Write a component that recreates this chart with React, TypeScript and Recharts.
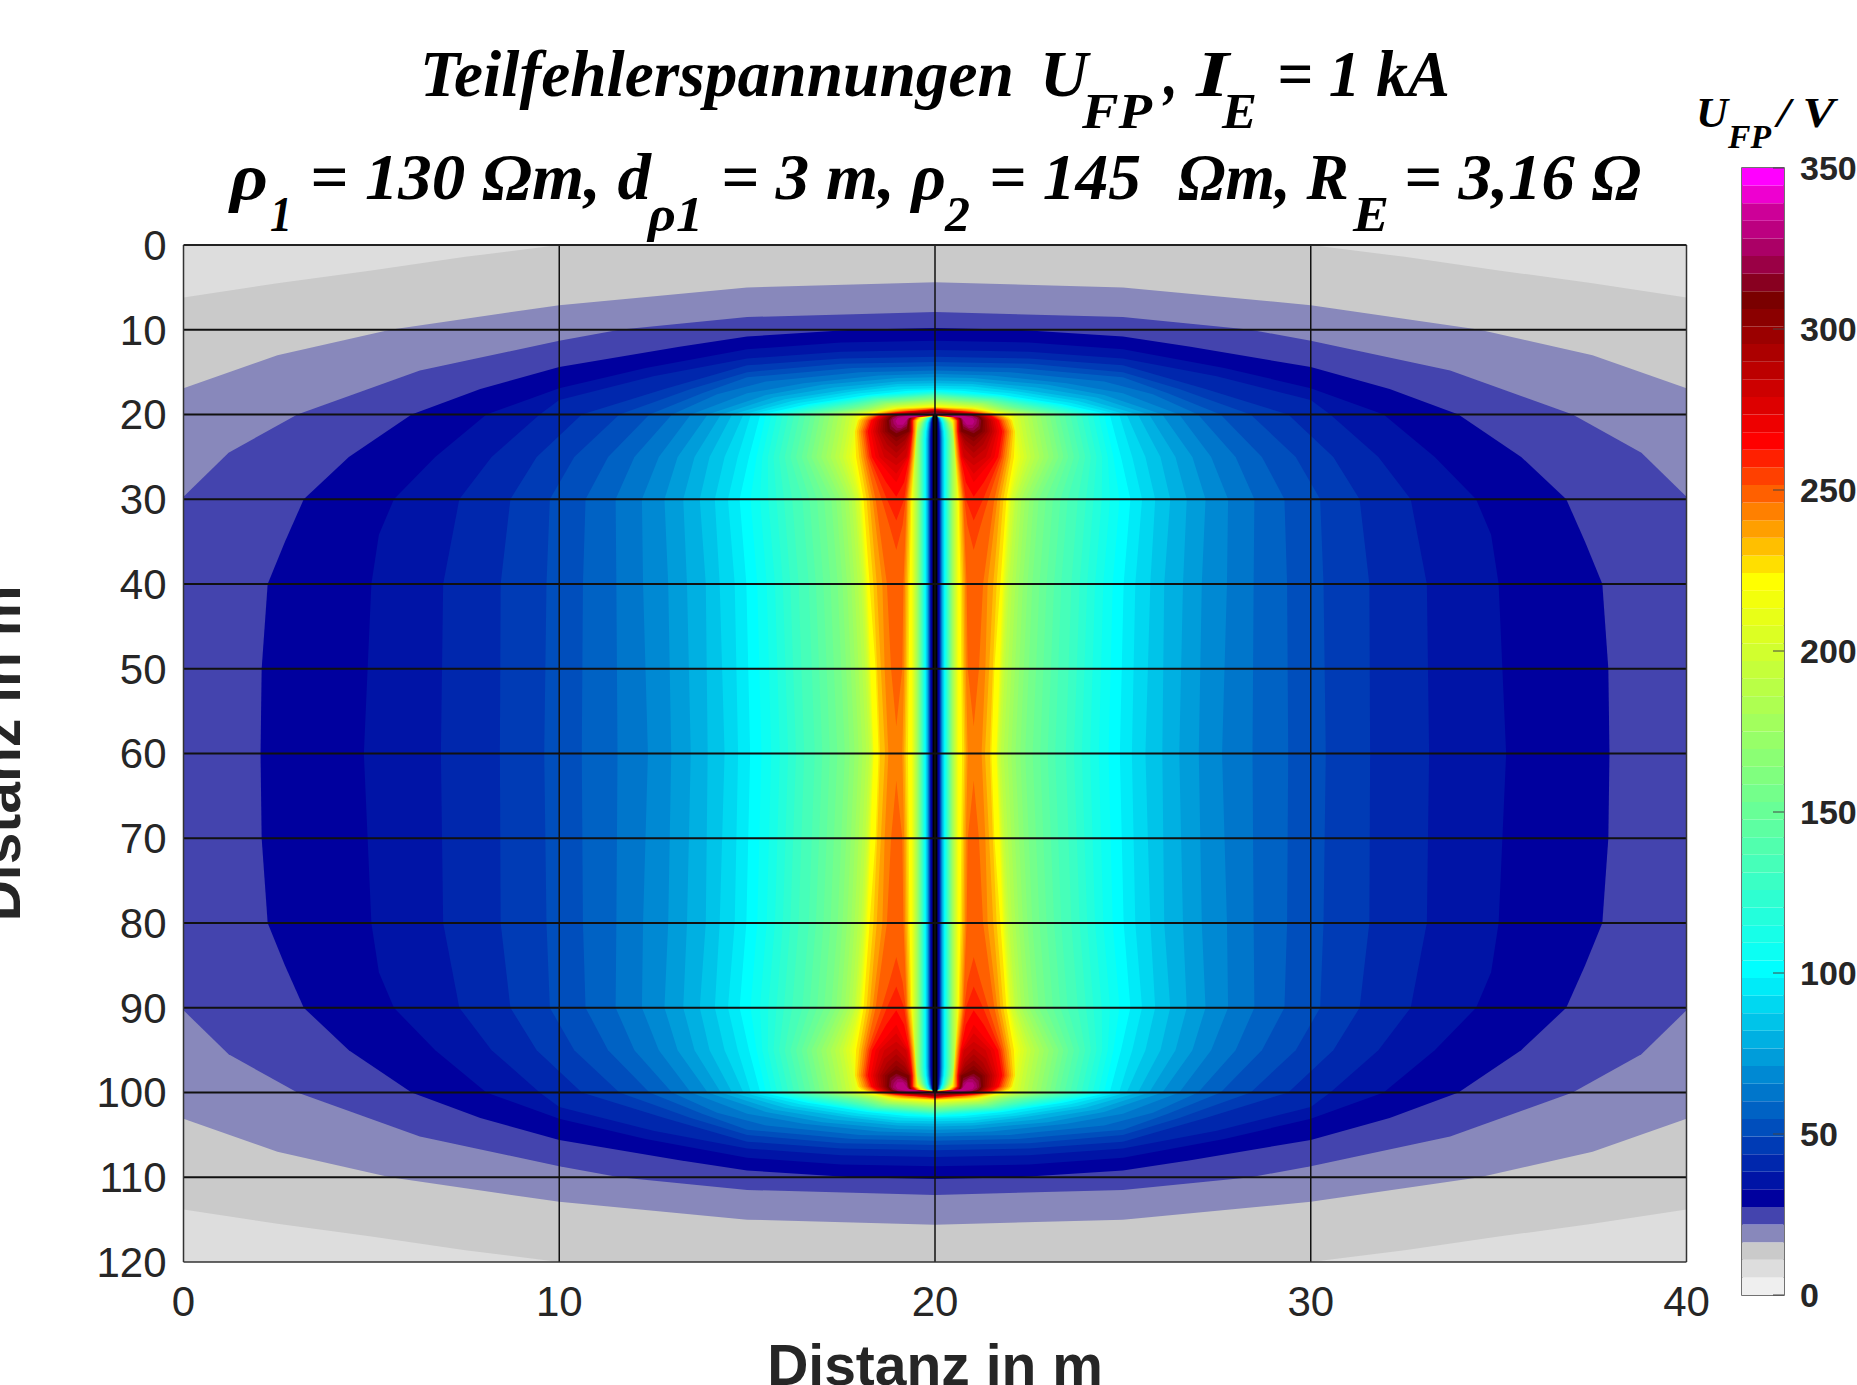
import React from 'react';
import { ComposedChart, BarChart, Bar, Area, XAxis, YAxis, ReferenceLine, ReferenceArea } from 'recharts';

const SANS = '"Liberation Sans", Arial, sans-serif';
const SERIF = '"Liberation Serif", "Times New Roman", serif';

const xTicks = [0, 10, 20, 30, 40];
const yTicks = [0, 10, 20, 30, 40, 50, 60, 70, 80, 90, 100, 110, 120];
const barTicks = [0, 50, 100, 150, 200, 250, 300, 350];
const xGrid = [10, 20, 30];
const yGrid = [10, 20, 30, 40, 50, 60, 70, 80, 90, 100, 110];

const palette = [
  '#efefef', '#dddddd', '#cacaca', '#8888bb', '#4444ae', '#00009e', '#0014a6', '#0027ad',
  '#003bb5', '#004ebc', '#0062c4', '#0076cb', '#0089d3', '#009dda', '#00b0e2', '#00c4e9',
  '#00d8f1', '#00ebf8', '#00ffff', '#0cfff3', '#17ffe8', '#23ffdc', '#2effd1', '#3affc5',
  '#46ffb9', '#51ffae', '#5dffa2', '#68ff97', '#74ff8b', '#80ff7f', '#8bff74', '#97ff68',
  '#a2ff5d', '#aeff51', '#b9ff46', '#c5ff3a', '#d1ff2e', '#dcff23', '#e8ff17', '#f3ff0c',
  '#ffff00', '#ffdf00', '#ffbf00', '#ff9f00', '#ff8000', '#ff6000', '#ff4000', '#ff2000',
  '#ff0000', '#ee0000', '#dd0000', '#cd0000', '#bc0000', '#ac0000', '#9b0000', '#8b0000',
  '#7a0000', '#880020', '#9a0045', '#ab0066', '#bc0080', '#cd0098', '#ee00d0', '#ff00ff',
];
const colorbarStep = 5.46875;

// upper-left quadrant of each contour: [y, x of the left edge]
const contour2 = [[60, 0], [113.8, 0], [115.5, 2.5], [117, 5], [118.6, 7.5], [120, 10]];
const contour3 = [[60, 0], [103.1, 0], [107, 2.5], [110, 5.5], [112.9, 10], [115, 15], [115.6, 20]];
const contour4 = [[60, 0], [90.3, 0], [95.5, 1.2], [100, 3.03], [105.2, 6.29], [108.7, 10], [110, 11.6], [111.5, 15], [112.1, 20]];
const contour5 = [[60, 2.05], [70, 2.08], [80, 2.24], [85, 2.7], [90, 3.2], [95, 4.4], [100, 6.07], [103, 7.9], [105.6, 10], [108, 13.2], [109.2, 15], [110, 17.8], [110.2, 20]];
const contour6 = [[60, 4.8], [80, 5.0], [85.8, 5.2], [90, 5.6], [95, 6.7], [100, 8.06], [103.1, 10], [105.5, 12.3], [107.7, 15], [108.5, 17.5], [108.7, 20]];
const contour7 = [[60, 6.85], [80, 6.91], [90, 7.34], [95, 8.2], [100, 9.48], [101.7, 10], [104.5, 12.5], [106.6, 15], [107.4, 17.5], [107.6, 20]];
const contour8 = [[60, 8.42], [80, 8.44], [90, 8.7], [95, 9.4], [100, 10.6], [103, 12.8], [105.8, 15], [106.6, 17.5], [106.8, 20]];
const contour9 = [[60, 9.6], [80, 9.66], [90, 9.75], [95, 10.4], [100, 11.6], [103, 13.5], [105, 15], [106, 17.5], [106.2, 20]];
const contour10 = [[60, 10.6], [80, 10.63], [90, 10.7], [95, 11.3], [100, 12.4], [102.5, 13.8], [104.4, 15], [105.5, 17.8], [105.7, 20]];
const contour11 = [[60, 11.55], [80, 11.52], [90, 11.5], [95, 12], [100, 13.0], [102.4, 14.2], [103.9, 15.5], [105, 18], [105.2, 20]];
const contour12 = [[60, 12.36], [80, 12.23], [90, 12.2], [95, 12.65], [100, 13.5], [102.5, 15], [103.7, 16.5], [104.6, 18.5], [104.8, 20]];
const contour13 = [[60, 12.98], [80, 12.9], [90, 12.8], [95, 13.15], [100, 13.95], [102.3, 15.5], [103.5, 17], [104.3, 19], [104.4, 20]];
const contour14 = [[60, 13.5], [80, 13.4], [90, 13.3], [95, 13.6], [100, 14.3], [102, 15.7], [103.2, 17.3], [103.9, 19], [104, 20]];
const contour15 = [[60, 13.95], [80, 13.9], [90, 13.74], [95, 14.0], [100, 14.6], [101.8, 16], [102.9, 17.6], [103.6, 19], [103.7, 20]];
const contour16 = [[60, 14.4], [80, 14.27], [90, 14.14], [95, 14.4], [100, 14.9], [101.6, 16.2], [102.7, 17.8], [103.3, 19], [103.4, 20]];
const contour17 = [[60, 14.76], [80, 14.67], [90, 14.49], [95, 14.75], [100, 15.1], [101.4, 16.4], [102.5, 18], [103, 19.2], [103.1, 20]];
const contour18 = [[60, 15.08], [80, 14.98], [90, 14.8], [95, 15.05], [100, 15.35], [101.2, 16.6], [102.3, 18.2], [102.8, 19.3], [102.9, 20]];
const outerContours = [contour2, contour3, contour4, contour5, contour6, contour7, contour8, contour9, contour10, contour11, contour12, contour13, contour14, contour15, contour16, contour17, contour18];

// levels 19..40, one column per reading line
const x60 = [15.38, 15.64, 15.87, 16.09, 16.3, 16.52, 16.8, 17.0, 17.2, 17.4, 17.6, 17.73, 17.86, 17.97, 18.07, 18.17, 18.25, 18.3, 18.33, 18.35, 18.36, 18.37];
const x80 = [15.27, 15.52, 15.74, 15.95, 16.15, 16.37, 16.64, 16.83, 17.03, 17.22, 17.41, 17.54, 17.66, 17.77, 17.86, 17.95, 18.03, 18.08, 18.12, 18.15, 18.18, 18.2];
const x90 = [15.09, 15.34, 15.56, 15.78, 15.98, 16.2, 16.47, 16.66, 16.86, 17.05, 17.24, 17.37, 17.49, 17.6, 17.7, 17.78, 17.86, 17.9, 17.97, 18.0, 18.03, 18.05];
const x95 = [15.25, 15.4, 15.55, 15.7, 15.85, 16.0, 16.15, 16.3, 16.45, 16.58, 16.71, 16.84, 16.97, 17.1, 17.22, 17.34, 17.45, 17.55, 17.63, 17.72, 17.78, 17.85];
const x100 = [15.5, 15.65, 15.8, 15.95, 16.1, 16.25, 16.4, 16.55, 16.7, 16.82, 16.95, 17.07, 17.2, 17.32, 17.44, 17.55, 17.65, 17.75, 17.82, 17.9, 17.95, 18.0];
const capY1 = [101.16, 101.12, 101.08, 101.04, 101.0, 100.96, 100.92, 100.88, 100.84, 100.8, 100.76, 100.72, 100.68, 100.64, 100.6, 100.55, 100.5, 100.45, 100.42, 100.38, 100.34, 100.3];
const capX1 = [16.7, 16.85, 17.0, 17.15, 17.3, 17.42, 17.55, 17.67, 17.8, 17.9, 18.0, 18.08, 18.16, 18.22, 18.28, 18.33, 18.37, 18.4, 18.43, 18.45, 18.47, 18.5];
const capY2 = [102.23, 102.15, 102.08, 102.0, 101.93, 101.86, 101.78, 101.7, 101.63, 101.56, 101.48, 101.4, 101.33, 101.26, 101.18, 101.1, 101.03, 100.96, 100.88, 100.82, 100.75, 100.7];
const capX2 = [18.25, 18.28, 18.32, 18.35, 18.4, 18.44, 18.47, 18.5, 18.55, 18.58, 18.62, 18.65, 18.7, 18.72, 18.76, 18.8, 18.84, 18.87, 18.9, 18.94, 18.97, 19.0];
const capTop = [102.8, 102.7, 102.6, 102.5, 102.45, 102.35, 102.3, 102.2, 102.1, 102.0, 101.9, 101.8, 101.75, 101.65, 101.55, 101.5, 101.4, 101.3, 101.2, 101.15, 101.05, 100.95];

// central valley around the earth conductor, levels 40 down to 6: half widths in m
const needleHalf = [0.62, 0.6, 0.58, 0.56, 0.54, 0.52, 0.5, 0.48, 0.46, 0.445, 0.43, 0.415, 0.4, 0.385, 0.37, 0.355, 0.34, 0.325, 0.31, 0.295, 0.28, 0.265, 0.25, 0.235, 0.22, 0.205, 0.19, 0.18, 0.17, 0.16, 0.15, 0.14, 0.13, 0.12, 0.11];
const needleTaper = [[60, 1], [97, 1], [98, 0.95], [99, 0.8], [99.5, 0.62], [99.75, 0.3], [99.8, 0]];
const conductorRows = [[20, 19.935, 20.065], [100, 19.935, 20.065]];

// hot lobes, upper-left one: [y, left edge, right edge]
const lobe41 = [[60, 18.5, 19.28], [70, 18.42, 19.3], [80, 18.26, 19.32], [90, 18.1, 19.37], [95, 17.9, 19.46], [98, 17.87, 19.51], [99.3, 17.95, 19.53], [99.7, 18.05, 19.66], [99.8, 18.15, 20], [100.3, 18.5, 20], [100.7, 19, 20], [100.88, 20, 20]];
const lobe42 = [[60, 18.54, 19.22], [70, 18.46, 19.26], [80, 18.36, 19.28], [90, 18.18, 19.34], [95, 17.98, 19.44], [98, 17.92, 19.49], [99.3, 18, 19.5], [99.7, 18.12, 19.62], [99.82, 18.2, 20], [100.3, 18.6, 20], [100.65, 19.1, 20], [100.84, 20, 20]];
const lobe43 = [[60, 18.67, 19.18], [70, 18.56, 19.22], [80, 18.45, 19.24], [90, 18.26, 19.3], [95, 18.04, 19.42], [98, 17.97, 19.47], [99.3, 18.06, 19.48], [99.7, 18.18, 19.6], [99.84, 18.28, 20], [100.3, 18.7, 20], [100.6, 19.2, 20], [100.8, 20, 20]];
const lobe44 = [[60, 18.76, 19.13], [70, 18.66, 19.18], [80, 18.6, 19.2], [90, 18.34, 19.27], [95, 18.1, 19.4], [98, 18.02, 19.46], [99.3, 18.12, 19.46], [99.7, 18.24, 19.58], [99.86, 18.34, 20], [100.3, 18.78, 20], [100.55, 19.3, 20], [100.76, 20, 20]];
const lobe45 = [[63.2, 18.97, 18.97], [70, 18.83, 19.13], [80, 18.72, 19.16], [90, 18.42, 19.25], [95, 18.16, 19.38], [98, 18.07, 19.44], [99.3, 18.17, 19.44], [99.7, 18.3, 19.56], [99.88, 18.4, 20], [100.3, 18.86, 20], [100.5, 19.4, 20], [100.72, 20, 20]];
const lobe46 = [[84, 18.97, 18.97], [87, 18.78, 19.14], [90, 18.58, 19.22], [95, 18.21, 19.36], [98, 18.12, 19.42], [99.3, 18.22, 19.42], [99.7, 18.36, 19.54], [99.9, 18.46, 20], [100.3, 18.95, 20], [100.46, 19.5, 20], [100.68, 20, 20]];
const lobe47 = [[87.5, 18.97, 18.97], [90, 18.72, 19.18], [95, 18.26, 19.34], [98, 18.16, 19.41], [99.3, 18.26, 19.41], [99.7, 18.4, 19.52], [99.92, 18.5, 20], [100.3, 19.02, 20], [100.44, 19.6, 20], [100.65, 20, 20]];
const lobe48 = [[90.3, 18.97, 18.97], [92, 18.7, 19.18], [95, 18.32, 19.32], [98, 18.21, 19.4], [99.3, 18.3, 19.4], [99.7, 18.45, 19.5], [99.94, 18.55, 20], [100.3, 19.1, 20], [100.62, 20, 20]];
const lobe49 = [[92, 18.97, 18.97], [95, 18.42, 19.3], [98, 18.29, 19.39], [99.3, 18.36, 19.39], [99.7, 18.5, 19.48], [99.95, 18.62, 20], [100.3, 19.2, 20], [100.58, 20, 20]];
const lobe50 = [[93, 18.97, 18.97], [95, 18.52, 19.27], [98, 18.35, 19.38], [99.3, 18.42, 19.38], [99.7, 18.56, 19.46], [99.96, 18.68, 20], [100.3, 19.3, 20], [100.54, 20, 20]];
const lobe51 = [[94, 18.97, 18.97], [95, 18.65, 19.23], [98, 18.41, 19.37], [99.3, 18.47, 19.37], [99.7, 18.6, 19.44], [99.97, 18.74, 20], [100.25, 19.3, 20], [100.5, 20, 20]];
const lobe52 = [[94.8, 18.97, 18.97], [96, 18.65, 19.22], [98, 18.47, 19.36], [99.3, 18.52, 19.36], [99.7, 18.64, 19.42], [99.98, 18.8, 20], [100.2, 19.3, 20], [100.46, 20, 20]];
const lobe53 = [[95.5, 18.97, 18.97], [96.5, 18.72, 19.2], [98, 18.54, 19.35], [99.3, 18.58, 19.35], [99.7, 18.68, 19.4], [100, 18.86, 20], [100.2, 19.4, 20], [100.42, 20, 20]];
const lobe54 = [[96.2, 18.97, 18.97], [97, 18.78, 19.2], [98, 18.6, 19.34], [99.3, 18.63, 19.34], [99.7, 18.72, 19.38], [100, 18.92, 20], [100.2, 19.5, 20], [100.38, 20, 20]];
const lobe55 = [[96.8, 18.97, 18.97], [97.4, 18.82, 19.16], [98, 18.67, 19.32], [99.3, 18.68, 19.33], [99.7, 18.76, 19.37], [100, 18.98, 20], [100.15, 19.5, 20], [100.34, 20, 20]];
const lobe56 = [[97.3, 18.97, 18.97], [98, 18.74, 19.3], [99.3, 18.72, 19.32], [99.7, 18.8, 19.36], [100, 19.05, 20], [100.12, 19.5, 20], [100.3, 20, 20]];
const lobe57 = [[97.8, 18.97, 18.97], [98.3, 18.8, 19.25], [99.3, 18.77, 19.3], [99.7, 18.84, 19.35], [100, 19.1, 20], [100.1, 19.6, 20], [100.26, 20, 20]];
const lobe58 = [[98.1, 18.97, 19.05], [98.6, 18.84, 19.25], [99.3, 18.82, 19.28], [99.7, 18.88, 19.33], [100, 19.15, 19.95], [100.08, 19.6, 19.95], [100.2, 20, 20]];
const lobe59 = [[98.4, 19.0, 19.1], [98.9, 18.9, 19.25], [99.4, 18.88, 19.26], [99.8, 19.0, 19.3], [100, 19.3, 19.9], [100.1, 19.9, 20]];
const lobe60 = [[98.8, 19.0, 19.15], [99.2, 18.95, 19.22], [99.6, 19.0, 19.3], [99.9, 19.3, 19.8]];
const lobes = [lobe41, lobe42, lobe43, lobe44, lobe45, lobe46, lobe47, lobe48, lobe49, lobe50, lobe51, lobe52, lobe53, lobe54, lobe55, lobe56, lobe57, lobe58, lobe59, lobe60];

type Row = { y: number; band: number[] };
type Region = { color: string; rows: Row[] };

// the field is symmetric about y = 60 and x = 20: a quadrant reading gives the whole contour
const fullHeight = (q: number[][]): Row[] => {
  const upper = q.map(([y, lo, hi]) => ({ y, band: [lo, hi] }));
  const lower = q.slice(q[0][0] === 60 ? 1 : 0).reverse().map(([y, lo, hi]) => ({ y: 120 - y, band: [lo, hi] }));
  return [...lower, ...upper];
};

const regions: Region[] = [];
regions.push({ color: palette[1], rows: [{ y: 0, band: [0, 40] }, { y: 120, band: [0, 40] }] });
outerContours.forEach((c, i) => {
  regions.push({ color: palette[i + 2], rows: fullHeight(c.map(([y, x]) => [y, x, 40 - x])) });
});
x60.forEach((_, i) => {
  const q = [[60, x60[i]], [80, x80[i]], [90, x90[i]], [95, x95[i]], [100, x100[i]], [capY1[i], capX1[i]], [capY2[i], capX2[i]], [capTop[i], 20]];
  regions.push({ color: palette[i + 19], rows: fullHeight(q.map(([y, x]) => [y, x, 40 - x])) });
});
needleHalf.forEach((h, i) => {
  regions.push({ color: palette[39 - i], rows: fullHeight(needleTaper.map(([y, f]) => [y, 20 - h * f, 20 + h * f])) });
});
lobes.forEach((lobe, i) => {
  const color = palette[i + 41];
  const parts = lobe[0][0] === 60 ? [lobe] : null;
  if (parts) {
    regions.push({ color, rows: fullHeight(lobe) });
    regions.push({ color, rows: fullHeight(lobe.map(([y, lo, hi]) => [y, 40 - hi, 40 - lo])) });
  } else {
    const up = lobe.map(([y, lo, hi]) => ({ y, band: [lo, hi] }));
    const down = [...lobe].reverse().map(([y, lo, hi]) => ({ y: 120 - y, band: [lo, hi] }));
    const flip = (rows: Row[]) => rows.map((r) => ({ y: r.y, band: [40 - r.band[1], 40 - r.band[0]] }));
    regions.push({ color, rows: up }, { color, rows: down }, { color, rows: flip(up) }, { color, rows: flip(down) });
  }
});
regions.push({ color: '#000000', rows: conductorRows.map(([y, lo, hi]) => ({ y, band: [lo, hi] })) });

const colorbarRow: Record<string, number | string> = { name: 'U' };
palette.forEach((_, i) => { colorbarRow['b' + i] = colorbarStep; });
const colorbarData = [colorbarRow];

const titleParts: [string, number, number, number, number][] = [
  ['Teilfehlerspannungen', 420, 1014, 96, 66], ['U', 1040, 1088, 96, 66], ['FP', 1082, 1152, 128, 51], [',', 1164, 1178, 96, 66],
  ['I', 1196, 1229, 96, 66], ['E', 1222, 1257, 128, 51], ['= 1 kA', 1277, 1450, 96, 66],
  ['ρ', 230, 268, 199, 66], ['1', 270, 292, 231, 51], ['= 130 Ωm, d', 310, 651, 199, 66], ['ρ1', 648, 703, 231, 51],
  ['= 3 m, ρ', 721, 946, 199, 66], ['2', 945, 970, 231, 51], ['= 145', 989, 1141, 199, 66], ['Ωm, R', 1178, 1349, 199, 66],
  ['E', 1353, 1389, 231, 51], ['= 3,16 Ω', 1404, 1641, 199, 66],
  ['U', 1696, 1728, 127, 42], ['FP', 1728, 1771, 148, 33], ['/ V', 1777, 1835, 127, 42],
];

export default function App() {
  return (
    <div style={{ position: 'absolute', left: 0, top: 0, width: 1857, height: 1385, overflow: 'hidden', background: '#ffffff' }}>
      <div style={{ position: 'absolute', left: 0, top: 0 }}>
        <ComposedChart width={1857} height={1385} layout="vertical" margin={{ top: 245, right: 170.5, bottom: 0, left: 0 }}>
          <XAxis type="number" dataKey="band" domain={[0, 40]} ticks={xTicks} interval={0} height={123} tickLine={false} tickSize={0} tickMargin={24} axisLine={false}
            tick={{ fontSize: 42, fontFamily: SANS, fill: '#262626' }} allowDataOverflow
            label={{ value: 'Distanz in m', position: 'insideBottom', offset: 0, style: { fontSize: 57, fontWeight: 'bold', fontFamily: SANS, fill: '#262626' } }} />
          <YAxis type="number" dataKey="y" domain={[0, 120]} ticks={yTicks} interval={0} width={183.5} tickLine={false} tickSize={0} tickMargin={17} axisLine={false}
            tick={{ fontSize: 42, fontFamily: SANS, fill: '#262626' }} allowDataOverflow
            label={{ value: 'Distanz in m', angle: -90, position: 'insideLeft', offset: 0, style: { fontSize: 57, fontWeight: 'bold', fontFamily: SANS, fill: '#262626', textAnchor: 'middle' } }} />
          {regions.map((r, i) => (
            <Area key={i} data={r.rows} dataKey="band" type="linear" fill={r.color} fillOpacity={1} stroke="none" dot={false} activeDot={false} isAnimationActive={false} legendType="none" />
          ))}
          {xGrid.map((x) => <ReferenceLine key={'x' + x} x={x} stroke="#111111" strokeWidth={1.5} />)}
          {yGrid.map((y) => <ReferenceLine key={'y' + y} y={y} stroke="#111111" strokeWidth={1.8} />)}
          <ReferenceLine x={0} stroke="#333333" strokeWidth={1.5} />
          <ReferenceLine x={40} stroke="#333333" strokeWidth={1.5} />
          <ReferenceLine y={0} stroke="#222222" strokeWidth={2} />
          <ReferenceLine y={120} stroke="#333333" strokeWidth={1.5} />
        </ComposedChart>
      </div>
      <div style={{ position: 'absolute', left: 0, top: 0 }}>
        <BarChart width={1857} height={1385} data={colorbarData} barCategoryGap={0} margin={{ top: 168, right: 0, bottom: 90, left: 1742 }}>
          <XAxis dataKey="name" hide />
          <YAxis orientation="right" type="number" domain={[0, 350]} ticks={barTicks} interval={0} width={73} tickSize={-11} tickMargin={27} stroke="#444444"
            tick={{ fontSize: 34, fontWeight: 'bold', fontFamily: SANS, fill: '#262626' }} axisLine={false} />
          {palette.map((c, i) => (
            <Bar key={i} dataKey={'b' + i} stackId="bar" fill={c} isAnimationActive={false} legendType="none" />
          ))}
          <ReferenceArea y1={0} y2={350} fill="none" stroke="#444444" strokeWidth={1.5} />
        </BarChart>
      </div>
      <svg width={1857} height={1385} style={{ position: 'absolute', left: 0, top: 0, pointerEvents: 'none' }}>
        {titleParts.map(([t, x0, x1, base, size], i) => (
          <text key={i} x={x0} y={base} fontFamily={SERIF} fontWeight="bold" fontStyle="italic" fontSize={size} fill="#000000"
            textLength={x1 - x0} lengthAdjust="spacingAndGlyphs">{t}</text>
        ))}
      </svg>
    </div>
  );
}
